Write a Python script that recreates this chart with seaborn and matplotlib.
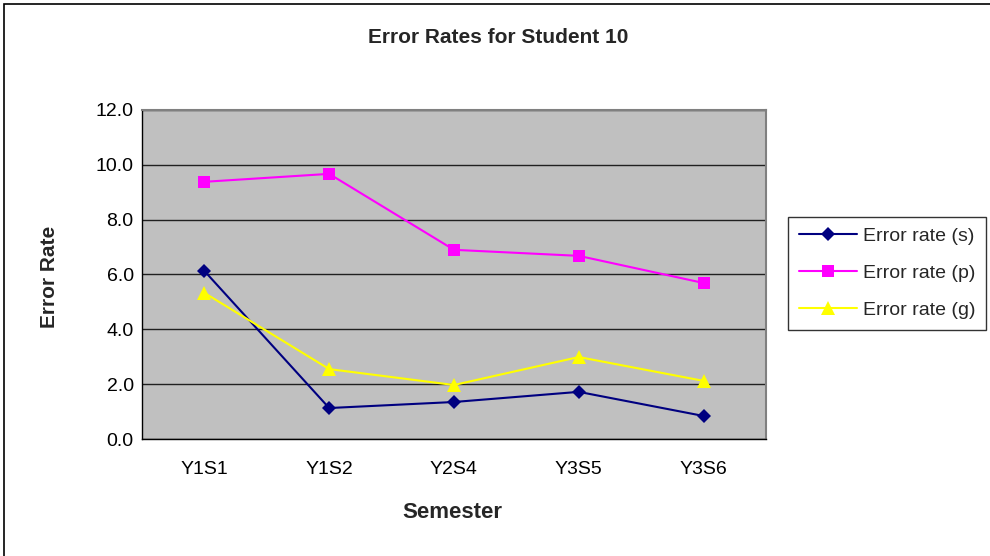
import matplotlib
matplotlib.use("Agg")
import matplotlib.pyplot as plt
import seaborn as sns
import pandas as pd
from matplotlib.ticker import FixedLocator, MultipleLocator, FormatStrFormatter
from matplotlib.patches import Rectangle

semesters = ["Y1S1", "Y1S2", "Y2S4", "Y3S5", "Y3S6"]
rate_s = [6.13, 1.13, 1.35, 1.72, 0.84]
rate_p = [9.38, 9.67, 6.90, 6.68, 5.69]
rate_g = [5.33, 2.55, 1.97, 2.99, 2.12]
series_names = ["Error rate (s)", "Error rate (p)", "Error rate (g)"]

rows = []
for name, vals in zip(series_names, [rate_s, rate_p, rate_g]):
    for i, (sem, v) in enumerate(zip(semesters, vals)):
        rows.append({"pos": i, "Semester": sem, "Error Rate": v, "series": name})
df = pd.DataFrame(rows)

sns.set_theme(style="white")
plt.rcParams["font.family"] = ["Liberation Sans", "DejaVu Sans"]

fig = plt.figure(figsize=(9.9, 5.56), dpi=100)
ax = fig.add_axes([0.1434, 0.2104, 0.6303, 0.5918])

# outer chart frame
fig.patches.append(Rectangle((0.004, -0.01), 1.1, 1.003, transform=fig.transFigure,
                             fill=False, edgecolor="black", linewidth=1.2))

ax.set_facecolor("#C0C0C0")
palette = {"Error rate (s)": "#000080", "Error rate (p)": "#FF00FF", "Error rate (g)": "#FFFF00"}
markers = {"Error rate (s)": "D", "Error rate (p)": "s", "Error rate (g)": "^"}
sizes = {"Error rate (s)": 7, "Error rate (p)": 8.5, "Error rate (g)": 10}

for name in series_names:
    sub = df[df["series"] == name]
    sns.lineplot(data=sub, x="pos", y="Error Rate", ax=ax, color=palette[name],
                 marker=markers[name], markersize=sizes[name], markeredgewidth=0,
                 linewidth=1.5, label=name, zorder=3)

ax.set_xlim(-0.5, 4.5)
ax.set_ylim(0, 12)
ax.xaxis.set_major_locator(FixedLocator(range(len(semesters))))
ax.set_xticklabels(semesters)
ax.xaxis.set_minor_locator(FixedLocator([-0.5, 0.5, 1.5, 2.5, 3.5, 4.5]))
ax.tick_params(axis="x", which="major", length=0, pad=16, labelsize=14)
ax.tick_params(axis="x", which="minor", length=5, width=1, color="black", direction="out")
ax.yaxis.set_major_locator(MultipleLocator(2))
ax.yaxis.set_major_formatter(FormatStrFormatter("%.1f"))
ax.tick_params(axis="y", length=5, width=1, color="black", direction="out", labelsize=14, pad=1)
ax.tick_params(axis="both", colors="black")

ax.grid(axis="y", color="#202020", linewidth=1)
ax.grid(axis="x", visible=False)
ax.set_axisbelow(True)

for side in ["top", "right"]:
    ax.spines[side].set_color("#808080")
    ax.spines[side].set_linewidth(1.5)
for side in ["left", "bottom"]:
    ax.spines[side].set_color("black")
    ax.spines[side].set_linewidth(1)

ax.set_xlabel("Semester", fontsize=16, fontweight="bold", va="center")
ax.xaxis.set_label_coords(0.497, -0.222)
ax.set_ylabel("Error Rate", fontsize=15, fontweight="bold", va="center")
ax.yaxis.set_label_coords(-0.148, 0.492)
fig.text(0.503, 0.933, "Error Rates for Student 10", ha="center", va="center",
         fontsize=15, fontweight="bold")

leg = ax.legend(loc="upper left", bbox_to_anchor=(0.796, 0.61), bbox_transform=fig.transFigure,
                frameon=True, fancybox=False, fontsize=14, handlelength=3.0,
                borderpad=0.55, labelspacing=1.0, handletextpad=0.3, borderaxespad=0)
leg.get_frame().set_edgecolor("black")
leg.get_frame().set_linewidth(1)

fig.savefig("out.png", dpi=100)
